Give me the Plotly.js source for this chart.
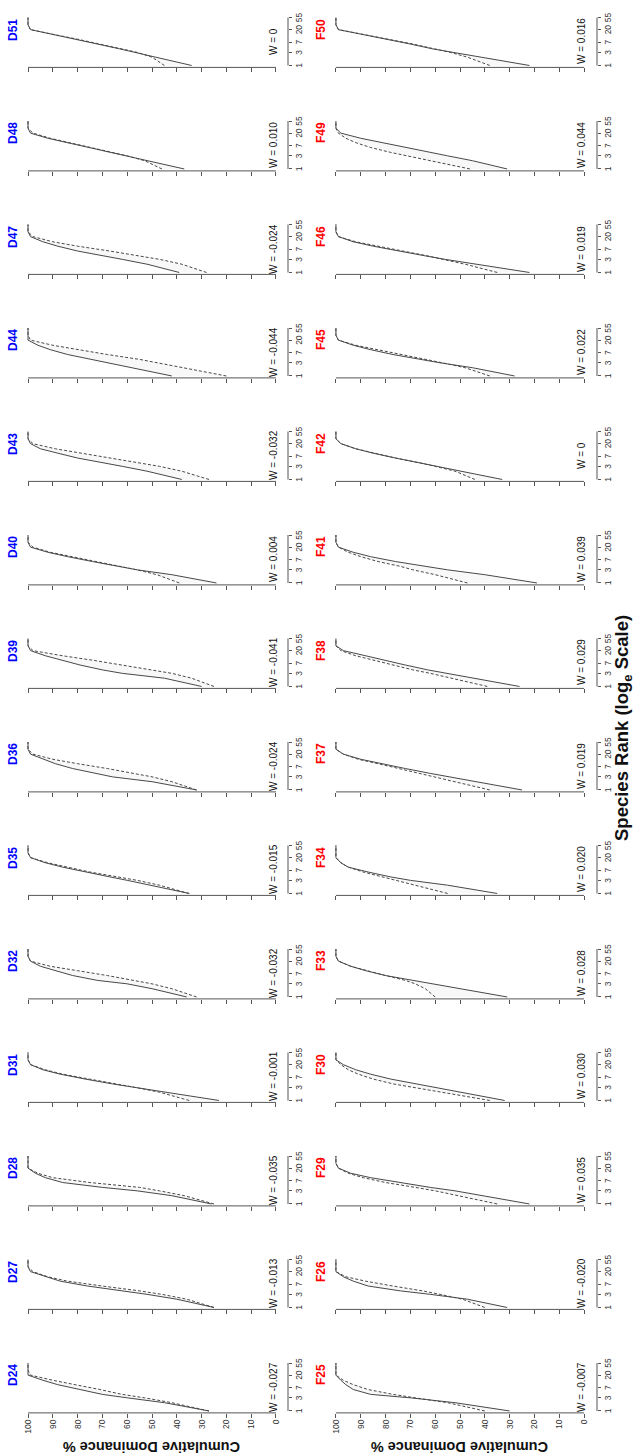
<!DOCTYPE html>
<html><head><meta charset="utf-8">
<script src="https://cdn.plot.ly/plotly-3.0.1.min.js"></script>
<style>
html,body{margin:0;padding:0;background:#fff;overflow:hidden;width:642px;height:1455px;}
#chart{position:absolute;left:0;top:0;width:1455px;height:642px;transform-origin:0 0;transform:translateY(1455px) rotate(-90deg);}
</style></head><body><div id="chart"></div>
<script>
// ----- data -----
const ranks = [1,2,3,4,6,9,13,20,30,55];
const rankTicks = [1,3,7,20,55];
const rankTickText = ["1","3","7","20","55"];
const dominanceTicks = [0,10,20,30,40,50,60,70,80,90,100];

const dSites = ["D24","D27","D28","D31","D32","D35","D36","D39","D40","D43","D44","D47","D48","D51"];
const fSites = ["F25","F26","F29","F30","F33","F34","F37","F38","F41","F42","F45","F46","F49","F50"];
const dW = ["W = -0.027","W = -0.013","W = -0.035","W = -0.001","W = -0.032","W = -0.015","W = -0.024","W = -0.041","W = 0.004","W = -0.032","W = -0.044","W = -0.024","W = 0.010","W = 0"];
const fW = ["W = -0.007","W = -0.020","W = 0.035","W = 0.030","W = 0.028","W = 0.020","W = 0.019","W = 0.029","W = 0.039","W = 0","W = 0.022","W = 0.019","W = 0.044","W = 0.016"];

const dSolid = [
 [27,45,60,70,79,88,94,100,100,100],
 [25,40,52,62,76,87,93,99,100,100],
 [26,42,56,70,86,93,97,100,100,100],
 [23,45,57,66,77,87,94,99,100,100],
 [36,50,60,72,82,89,95,99,100,100],
 [35,50,60,67,77,86,93,99,100,100],
 [32,50,66,73,82,89,94,99,100,100],
 [30,45,62,70,79,86,93,99,100,100],
 [24,42,56,64,74,84,92,99,100,100],
 [38,52,62,70,80,88,95,99,100,100],
 [42,58,68,75,84,91,96,100,100,100],
 [39,52,62,70,80,88,94,99,100,100],
 [37,52,60,66,75,84,92,99,100,100],
 [34,48,57,63,72,81,89,99,100,100]
];
const dDashed = [
 [27,42,53,62,71,81,90,99,100,100],
 [25,36,46,55,70,84,92,98,100,100],
 [25,37,47,55,75,90,96,100,100,100],
 [35,47,57,65,76,86,93,99,100,100],
 [32,42,50,57,68,80,91,99,100,100],
 [35,47,56,64,75,84,92,99,100,100],
 [32,42,50,57,68,80,90,98,100,100],
 [25,34,42,50,62,74,86,98,100,100],
 [39,48,56,63,73,83,91,98,100,100],
 [27,38,47,55,67,79,89,98,100,100],
 [20,37,47,55,68,80,90,99,100,100],
 [28,38,47,55,67,80,90,98,100,100],
 [46,53,60,66,75,83,91,98,100,100],
 [45,50,56,62,71,80,89,99,100,100]
];
const fSolid = [
 [30,52,70,86,93,96,98,100,100,100],
 [31,47,62,74,87,93,97,100,100,100],
 [22,40,52,62,75,86,94,99,100,100],
 [32,50,61,68,78,86,92,97,100,100],
 [31,50,62,70,80,88,94,99,100,100],
 [35,55,70,78,87,95,98,100,100,100],
 [25,44,54,62,72,82,90,97,100,100],
 [26,45,56,63,72,80,88,97,100,100],
 [19,40,55,64,76,86,93,99,100,100],
 [33,50,60,66,76,85,92,98,100,100],
 [28,45,58,66,77,86,93,99,100,100],
 [22,44,56,64,75,85,93,99,100,100],
 [31,45,55,62,72,82,90,98,100,100],
 [22,42,54,61,70,80,89,99,100,100]
];
const fDashed = [
 [40,55,68,77,87,93,97,100,100,100],
 [40,49,58,65,77,88,96,100,100,100],
 [35,50,60,68,80,89,95,99,100,100],
 [38,58,70,77,85,91,95,98,100,100],
 [60,64,68,72,80,88,94,99,100,100],
 [55,68,76,82,89,95,98,100,100,100],
 [38,52,60,66,74,83,91,97,100,100],
 [39,53,62,69,77,85,92,98,100,100],
 [47,60,69,74,83,90,95,99,100,100],
 [44,52,60,66,76,85,92,98,100,100],
 [38,48,57,64,74,84,92,99,100,100],
 [35,48,57,63,73,83,92,99,100,100],
 [46,62,72,78,86,92,96,99,100,100],
 [38,47,54,60,69,79,89,99,100,100]
];

// ----- layout geometry (unrotated figure, 1455 x 642, then rotated by CSS) -----
const W = 1455, H = 642;
const colStart = 42.1, colStep = 103.5, panelW = 51.8;
const rows = [
  {sites: dSites, w: dW, solid: dSolid, dashed: dDashed, color: "#0000FF", top: 18.1, bottom: 285.9, axisY: 288},
  {sites: fSites, w: fW, solid: fSolid, dashed: fDashed, color: "#FF0000", top: 326, bottom: 594, axisY: 597}
];
const lpad = 0.04 * Math.log10(55);
const font = "Liberation Sans, Arial, Helvetica, sans-serif";

const traces = [];
const layout = {
  width: W, height: H, margin: {l:0, r:0, t:0, b:0},
  paper_bgcolor: "#fff", plot_bgcolor: "#fff", showlegend: false,
  font: {family: font, color: "#222"},
  shapes: [], annotations: []
};

rows.forEach((row, r) => {
  row.sites.forEach((site, i) => {
    const k = r * 14 + i + 1;
    const xn = "x" + k, yn = "y" + k;
    const left = colStart + colStep * i;
    traces.push({x: ranks, y: row.solid[i], xaxis: xn, yaxis: yn, type: "scatter", mode: "lines",
      line: {color: "#484848", width: 1}, hoverinfo: "skip"});
    traces.push({x: ranks, y: row.dashed[i], xaxis: xn, yaxis: yn, type: "scatter", mode: "lines",
      fill: "tonexty", fillcolor: "rgba(0,0,0,0.028)",
      line: {color: "#484848", width: 1, dash: "3px,2px"}, hoverinfo: "skip"});
    layout["xaxis" + k] = {
      type: "log", domain: [left / W, (left + panelW) / W],
      range: [-lpad, Math.log10(55) + lpad],
      anchor: "free", position: 1 - row.axisY / H,
      tickmode: "array", tickvals: rankTicks, ticktext: rankTickText,
      ticks: "outside", ticklen: 3, tickwidth: 1, tickcolor: "#555",
      tickfont: {size: 8.5, color: "#333", family: font},
      showline: false, showgrid: false, zeroline: false, fixedrange: true
    };
    layout["yaxis" + k] = {
      domain: [1 - row.bottom / H, 1 - row.top / H], anchor: xn,
      range: [-4, 104], tickmode: "array", tickvals: dominanceTicks,
      ticks: "outside", ticklen: 4, tickwidth: 1, tickcolor: "#555",
      showticklabels: i === 0, tickfont: {size: 8.5, color: "#333", family: font},
      showline: false, showgrid: false, zeroline: false, fixedrange: true
    };
    // R-style axis lines spanning only the data range
    layout.shapes.push({type: "line", xref: xn + " domain", yref: yn + " domain",
      x0: 0, x1: 0, y0: 4 / 108, y1: 104 / 108, line: {color: "#555", width: 1}});
    layout.shapes.push({type: "line", xref: xn + " domain", yref: "paper",
      x0: lpad / (Math.log10(55) + 2 * lpad), x1: (Math.log10(55) + lpad) / (Math.log10(55) + 2 * lpad),
      y0: 1 - row.axisY / H, y1: 1 - row.axisY / H, line: {color: "#555", width: 1}});
    layout.annotations.push({text: site, xref: xn + " domain", x: 0.98, xanchor: "right",
      yref: "paper", y: 1 - (row.top - 5) / H, yanchor: "middle", showarrow: false,
      font: {size: 12, color: row.color, family: font, weight: "bold"}});
    layout.annotations.push({text: row.w[i], xref: xn + " domain", x: 0.5, xanchor: "center",
      yref: yn, y: 1, yanchor: "middle", showarrow: false,
      font: {size: 10, color: "#111", family: font}});
  });
  layout.annotations.push({text: "Cumulative Dominance %", textangle: -90, xref: "paper", x: 8 / W,
    xanchor: "center", yref: "paper", y: 1 - ((row.top + row.bottom) / 2) / H, yanchor: "middle",
    showarrow: false, font: {size: 14.5, color: "#111", family: font, weight: "bold"}});
});
layout.annotations.push({text: "Species Rank (log<sub>e</sub> Scale)", xref: "paper", x: 727 / W, xanchor: "center",
  yref: "paper", y: 1 - 623 / H, yanchor: "middle", showarrow: false,
  font: {size: 18.5, color: "#111", family: font, weight: "bold"}});

Plotly.newPlot("chart", traces, layout, {staticPlot: true, displayModeBar: false});
</script></body></html>
